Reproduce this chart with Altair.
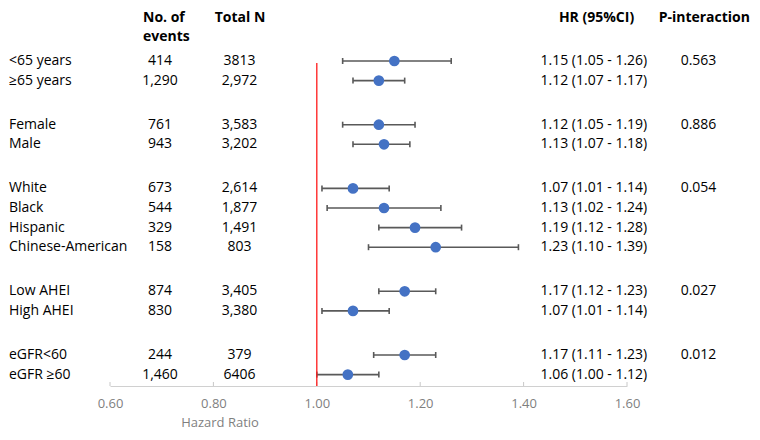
import altair as alt
import pandas as pd

labels = ["<65 years", "≥65 years", "Female", "Male", "White", "Black", "Hispanic",
          "Chinese-American", "Low AHEI", "High AHEI", "eGFR<60", "eGFR ≥60"]
events = ["414", "1,290", "761", "943", "673", "544", "329", "158", "874", "830", "244", "1,460"]
total_n = ["3813", "2,972", "3,583", "3,202", "2,614", "1,877", "1,491", "803", "3,405", "3,380", "379", "6406"]
hr = [1.15, 1.12, 1.12, 1.13, 1.07, 1.13, 1.19, 1.23, 1.17, 1.07, 1.17, 1.06]
ci_lo = [1.05, 1.07, 1.05, 1.07, 1.01, 1.02, 1.12, 1.10, 1.12, 1.01, 1.11, 1.00]
ci_hi = [1.26, 1.17, 1.19, 1.18, 1.14, 1.24, 1.28, 1.39, 1.23, 1.14, 1.23, 1.12]
p_int = ["0.563", "", "0.886", "", "0.054", "", "", "", "0.027", "", "0.012", ""]
group = [0, 0, 1, 1, 2, 2, 2, 2, 3, 3, 4, 4]
x_ticks = [0.6, 0.8, 1.0, 1.2, 1.4, 1.6]

GAP = 1.25
df = pd.DataFrame({
    "label": labels, "events": events, "total": total_n, "hr": hr,
    "lo": ci_lo, "hi": ci_hi, "p": p_int, "group": group,
})
df["pos"] = [i + GAP * g for i, g in enumerate(group)]
df["hrtxt"] = [f"{h:.2f} ({l:.2f} - {u:.2f})" for h, l, u in zip(hr, ci_lo, ci_hi)]
ticks_df = pd.DataFrame({"t": x_ticks})

FONT = "Open Sans"
FS = 14
AFS = 13
W, H = 517, 323
PAD_L, PAD_T = 102, 55
PAD_R = 744 - PAD_L - W
PAD_B = 424 - PAD_T - H

xs = alt.Scale(domain=[0.6, 1.6], nice=False, zero=False)
ys = alt.Scale(domain=[0.102, 16.582], nice=False, zero=False, reverse=True)
Y = alt.Y("pos:Q", scale=ys, axis=None)

base = alt.Chart(df)

ref = alt.Chart(ticks_df).mark_rule(color="#ff1a1a", strokeWidth=1.3).encode(
    x=alt.X("t:Q", scale=xs)
).transform_filter("datum.t == 1.0")

axis_chart = alt.Chart(ticks_df).mark_rule(color="#c8c8c8", strokeWidth=1).encode(
    x=alt.X("t:Q", scale=xs, axis=alt.Axis(
        values=x_ticks, format=".2f", title=None, ticks=False, domain=True,
        domainColor="#d0d0d0", domainWidth=1, labelColor="#7f7f7f",
        labelFontSize=AFS, labelFont=FONT, labelPadding=11, grid=False,
        labelFlush=False)),
    y=alt.value(H - 4), y2=alt.value(H),
)

err = base.mark_rule(color="#595959", strokeWidth=1.6).encode(
    x=alt.X("lo:Q", scale=xs), x2="hi:Q", y=Y)
cap_lo = base.mark_rule(color="#595959", strokeWidth=1.6, yOffset=-3, y2Offset=3).encode(
    x=alt.X("lo:Q", scale=xs), y=Y, y2="pos:Q")
cap_hi = base.mark_rule(color="#595959", strokeWidth=1.6, yOffset=-3, y2Offset=3).encode(
    x=alt.X("hi:Q", scale=xs), y=Y, y2="pos:Q")
dots = base.mark_circle(color="#4472c4", opacity=1, size=115).encode(
    x=alt.X("hr:Q", scale=xs), y=Y)


def col(field, xpx, align):
    return base.mark_text(font=FONT, fontSize=FS, color="#000000", align=align,
                          baseline="middle").encode(
        x=alt.value(xpx), y=Y, text=f"{field}:N")


t_label = col("label", -101, "left")
t_events = col("events", 50, "center")
t_total = col("total", 129.5, "center")
t_hr = col("hrtxt", 430.5, "left")
t_p = col("p", 588.5, "center")

hdr_df = pd.DataFrame({"h": ["No. of", "events", "Total N", "HR (95%CI)", "P-interaction"]})


def hdr(text, xpx, ypx, align, bold=True):
    return alt.Chart(hdr_df).mark_text(
        font=FONT, fontSize=FS, fontWeight="bold" if bold else "normal",
        color="#000000", align=align, baseline="middle"
    ).encode(x=alt.value(xpx), y=alt.value(ypx), text="h:N").transform_filter(
        alt.datum.h == text)


h1 = hdr("No. of", 33, -45, "left")
h2 = hdr("events", 33, -26, "left")
h3 = hdr("Total N", 130, -45, "center")
h4 = hdr("HR (95%CI)", 486.5, -45, "center")
h5 = hdr("P-interaction", 640, -45, "right")

title_df = pd.DataFrame({"h": ["Hazard Ratio"]})
xtitle = alt.Chart(title_df).mark_text(
    font=FONT, fontSize=AFS, color="#7f7f7f", align="center", baseline="middle"
).encode(x=alt.value(110), y=alt.value(360), text="h:N")

chart = alt.layer(
    axis_chart, err, cap_lo, cap_hi, dots, ref,
    t_label, t_events, t_total, t_hr, t_p, h1, h2, h3, h4, h5, xtitle
).properties(
    width=W, height=H,
    autosize=alt.AutoSizeParams(type="none"),
    padding={"left": PAD_L, "top": PAD_T, "right": PAD_R, "bottom": PAD_B},
).configure(background="white").configure_view(strokeWidth=0, stroke="transparent")

chart.save("out.html", embed_options={"renderer": "svg", "actions": False})
